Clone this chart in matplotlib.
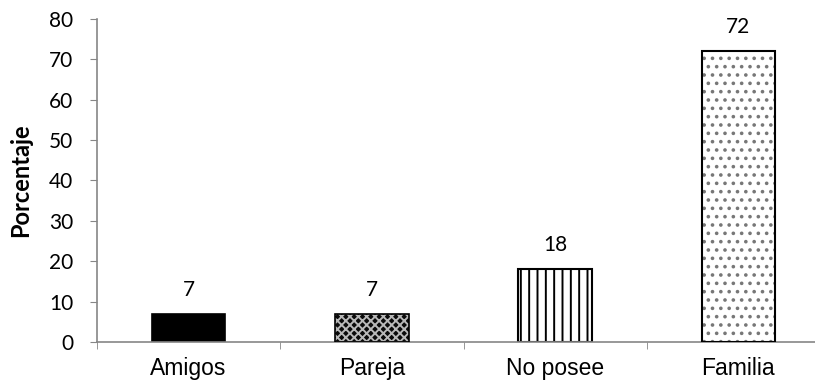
import matplotlib
matplotlib.use("Agg")
import matplotlib.pyplot as plt
import numpy as np

categories = ["Amigos", "Pareja", "No posee", "Familia"]
values = [7, 7, 18, 72]
y_ticks = [0, 10, 20, 30, 40, 50, 60, 70, 80]

plt.rcParams["hatch.linewidth"] = 1.4

fig = plt.figure(figsize=(8.15, 3.85), dpi=100)
ax = fig.add_axes([97 / 815, 43 / 385, 733 / 815, 323 / 385])

x = np.arange(len(categories))
w = 0.4
axis_grey = "#868686"
num_font = "Lato"

# Amigos: solid black
ax.bar(x[0], values[0], w, color="black", edgecolor="black", linewidth=1.2, zorder=2)

# Pareja: dark fill with a fine light diamond pattern
ax.bar(x[1], values[1], w, color="#0a0a0a", edgecolor="#b8b8b8", hatch="xxxx",
       linewidth=0, zorder=2)
ax.bar(x[1], values[1], w, fill=False, edgecolor="black", linewidth=1.2, zorder=3)

# No posee: vertical stripes
ax.bar(x[2], values[2], w, color="white", edgecolor="black", hatch="||",
       linewidth=1.5, zorder=2)

# Familia: sparse dots
ax.bar(x[3], values[3], w, color="white", edgecolor="#777777", hatch="..",
       linewidth=0, zorder=2)
ax.bar(x[3], values[3], w, fill=False, edgecolor="black", linewidth=1.5, zorder=3)

for xi, v in zip(x, values):
    ax.annotate(f"{v}", (xi, v), xytext=(0, 10), textcoords="offset points",
                ha="center", va="bottom", fontsize=15, family=num_font)

ax.set_xlim(-0.5, 3.5)
ax.set_ylim(0, 80)
ax.set_yticks(y_ticks)
ax.set_yticklabels([str(t) for t in y_ticks], family=num_font, fontsize=15)
ax.set_xticks(x)
ax.set_xticklabels(categories, family="Liberation Sans", fontsize=16.5)
ax.set_xticks(np.arange(-0.5, 4, 1), minor=True)
ax.tick_params(axis="x", which="major", length=0, pad=11)
ax.tick_params(axis="x", which="minor", length=5, color=axis_grey, direction="out")
ax.tick_params(axis="y", length=5, color=axis_grey, direction="out", pad=12)

ax.set_ylabel("Porcentaje", family=num_font, fontsize=17, fontweight="bold")
ax.yaxis.set_label_coords(-65 / 733, 0.5)

for side in ["top", "right"]:
    ax.spines[side].set_visible(False)
for side in ["left", "bottom"]:
    ax.spines[side].set_color(axis_grey)
    ax.spines[side].set_linewidth(1.2)

fig.savefig("out.png", dpi=100)
